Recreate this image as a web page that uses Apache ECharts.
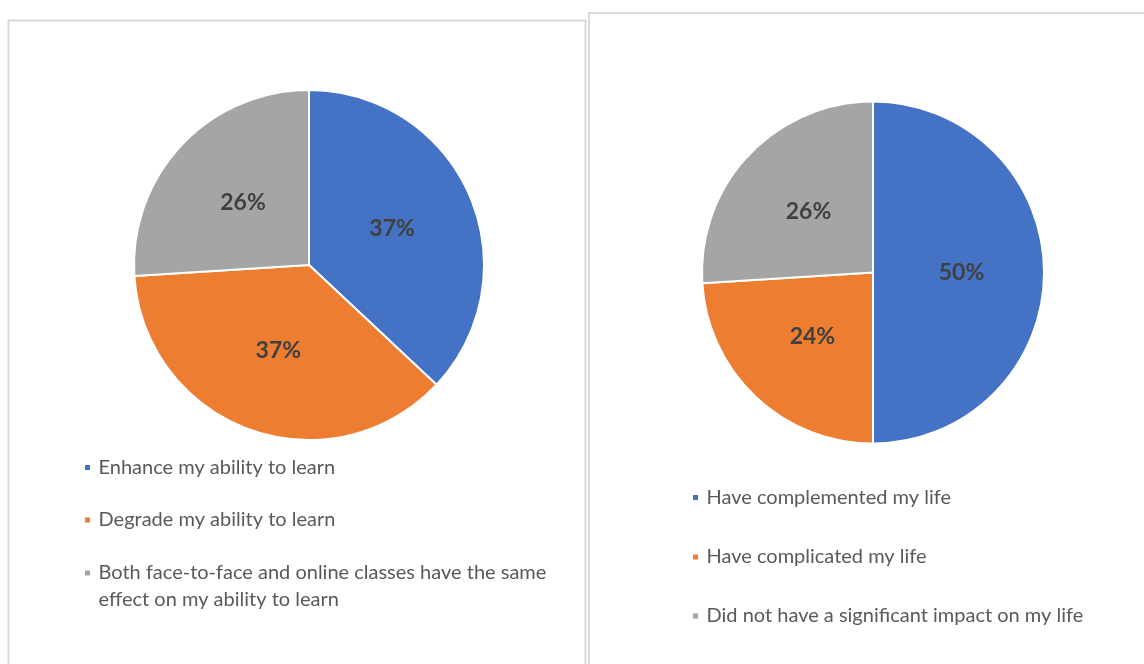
<!DOCTYPE html>
<html>
<head>
<meta charset="utf-8">
<script src="https://cdn.jsdelivr.net/npm/echarts@6/dist/echarts.min.js"></script>
<style>
  html, body { margin: 0; padding: 0; background: #fff; }
  #chart { width: 1144px; height: 664px; }
</style>
</head>
<body>
<div id="chart"></div>
<script>
// left pie: effect of online classes on learning
const learnNames = [
  'Enhance my ability to learn',
  'Degrade my ability to learn',
  'Both face-to-face and online classes have the same effect on my ability to learn'
];
const learnValues = [37, 37, 26];

// right pie: impact on life
const lifeNames = [
  'Have complemented my life',
  'Have complicated my life',
  'Did not have a significant impact on my life'
];
const lifeValues = [50, 24, 26];

const colors = ['#4472C4', '#ED7D31', '#A5A5A5'];

const chart = echarts.init(document.getElementById('chart'));

const FONT = 'Lato, "Open Sans", sans-serif';

function pieSeries(names, values, center, radius) {
  return {
    type: 'pie',
    center: center,
    radius: radius,
    startAngle: 90,
    clockwise: true,
    silent: true,
    itemStyle: { borderColor: '#fff', borderWidth: 2 },
    label: {
      show: true,
      position: 'inside',
      formatter: '{d}%',
      fontFamily: FONT,
      fontSize: 23,
      fontWeight: 'bold',
      color: '#404040'
    },
    labelLine: { show: false },
    data: names.map((n, i) => ({ name: n, value: values[i], itemStyle: { color: colors[i] } }))
  };
}

// one legend per entry so each line sits where the reference puts it
// wrapped entry: blank first line keeps the icon level with the first text line
function legendItem(name, left, top, wrap) {
  return {
    left: left,
    top: top,
    padding: 0,
    orient: 'vertical',
    icon: 'rect',
    itemWidth: 7,
    itemHeight: 7,
    selectedMode: false,
    data: [name],
    formatter: wrap
      ? ' \nBoth face-to-face and online classes have the same\neffect on my ability to learn'
      : '{name}',
    textStyle: {
      fontFamily: FONT,
      fontSize: 20,
      color: '#595959',
      lineHeight: 27,
      padding: [0, 0, 0, 2.5]
    }
  };
}

const option = {
  animation: false,
  graphic: [
    {
      type: 'rect',
      shape: { x: 8.5, y: 20.5, width: 577, height: 700 },
      style: { fill: 'none', stroke: '#D9D9D9', lineWidth: 2 },
      silent: true
    },
    {
      type: 'rect',
      shape: { x: 589, y: 13, width: 600, height: 700 },
      style: { fill: 'none', stroke: '#D9D9D9', lineWidth: 2 },
      silent: true
    }
  ],
  legend: [
    legendItem(learnNames[0], 83, 454, false),
    legendItem(learnNames[1], 83, 506.5, false),
    legendItem(learnNames[2], 83, 532.5, true),
    legendItem(lifeNames[0], 691, 484, false),
    legendItem(lifeNames[1], 691, 543.5, false),
    legendItem(lifeNames[2], 691, 602.5, false)
  ],
  series: [
    pieSeries(learnNames, learnValues, [309, 265], 175),
    pieSeries(lifeNames, lifeValues, [873, 272.5], 171)
  ]
};

chart.setOption(option);
</script>
</body>
</html>
